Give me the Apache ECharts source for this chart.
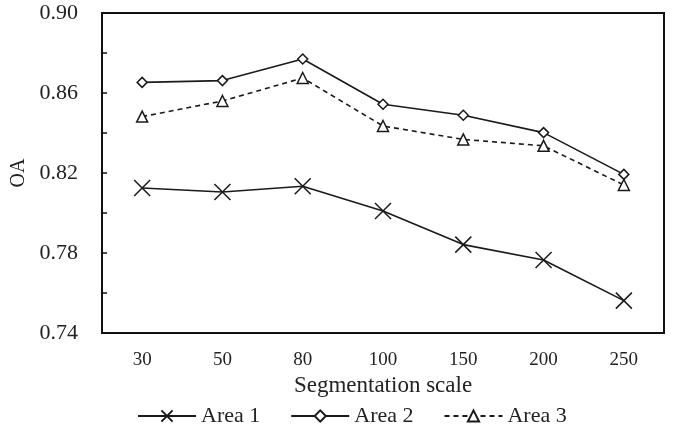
<!DOCTYPE html>
<html><head><meta charset="utf-8">
<script src="https://cdn.jsdelivr.net/npm/echarts@6/dist/echarts.min.js"></script>
<style>html,body{margin:0;padding:0;background:#fff}#c{width:674px;height:427px}</style>
</head><body><div id="c"></div>
<script>
const categories = ['30','50','80','100','150','200','250'];
const area1 = [0.8125, 0.8105, 0.8134, 0.8010, 0.7842, 0.7765, 0.7562];
const area2 = [0.8653, 0.8662, 0.8770, 0.8544, 0.8489, 0.8402, 0.8193];
const area3 = [0.8482, 0.8560, 0.8675, 0.8435, 0.8368, 0.8336, 0.8140];
const yTickLabels = ['0.74','0.78','0.82','0.86','0.90'];
const seriesNames = ['Area 1','Area 2','Area 3'];
const font = 'Liberation Serif';
const chart = echarts.init(document.getElementById('c'));
const crossPath = 'path://M0,0L10,10M10,0L0,10';
const mk = (name, data, symbol, size, dash) => ({
  name, type: 'line', data, symbol, symbolSize: size,
  lineStyle: {color: '#1a1a1a', width: 1.6, type: dash ? [5,4] : 'solid'},
  itemStyle: {color: symbol === crossPath ? '#1a1a1a' : '#fff', borderColor: '#1a1a1a', borderWidth: 1.5},
  emphasis: {disabled: true}, animation: false
});
chart.setOption({
  animation: false,
  grid: {left: 102, top: 13, right: 10, bottom: 94, outerBoundsMode: 'none', containLabel: false,
    show: true, borderColor: '#111', borderWidth: 2, backgroundColor: 'transparent'},
  xAxis: {
    type: 'category', data: categories, boundaryGap: true,
    name: 'Segmentation scale', nameLocation: 'middle', nameGap: 34,
    nameTextStyle: {fontFamily: font, fontSize: 23, color: '#222'},
    axisLine: {lineStyle: {color: '#111', width: 2}},
    axisTick: {inside: true, alignWithLabel: true, length: 5, lineStyle: {color: '#111', width: 1.5}},
    axisLabel: {fontFamily: font, fontSize: 19, color: '#222', margin: 18},
    splitLine: {show: false}
  },
  yAxis: {
    type: 'value', min: 0.74, max: 0.90, interval: 0.02,
    name: 'OA', nameLocation: 'middle', nameGap: 70,
    nameTextStyle: {fontFamily: font, fontSize: 20, color: '#222'},
    axisLine: {show: true, lineStyle: {color: '#111', width: 2}},
    axisTick: {show: true, inside: true, length: 5, lineStyle: {color: '#111', width: 1.5}},
    axisLabel: {fontFamily: font, fontSize: 22, color: '#222', margin: 24,
      formatter: v => { const s = v.toFixed(2); return yTickLabels.includes(s) ? s : ''; }},
    splitLine: {show: false}
  },
  legend: {
    top: 400, left: 132, itemGap: 30, itemWidth: 58, itemHeight: 14,
    textStyle: {fontFamily: font, fontSize: 22, color: '#222'},
    data: seriesNames
  },
  series: [
    mk(seriesNames[0], area1, crossPath, 16, false),
    mk(seriesNames[1], area2, 'diamond', 10, false),
    mk(seriesNames[2], area3, 'triangle', 11, true)
  ]
});
</script></body></html>
